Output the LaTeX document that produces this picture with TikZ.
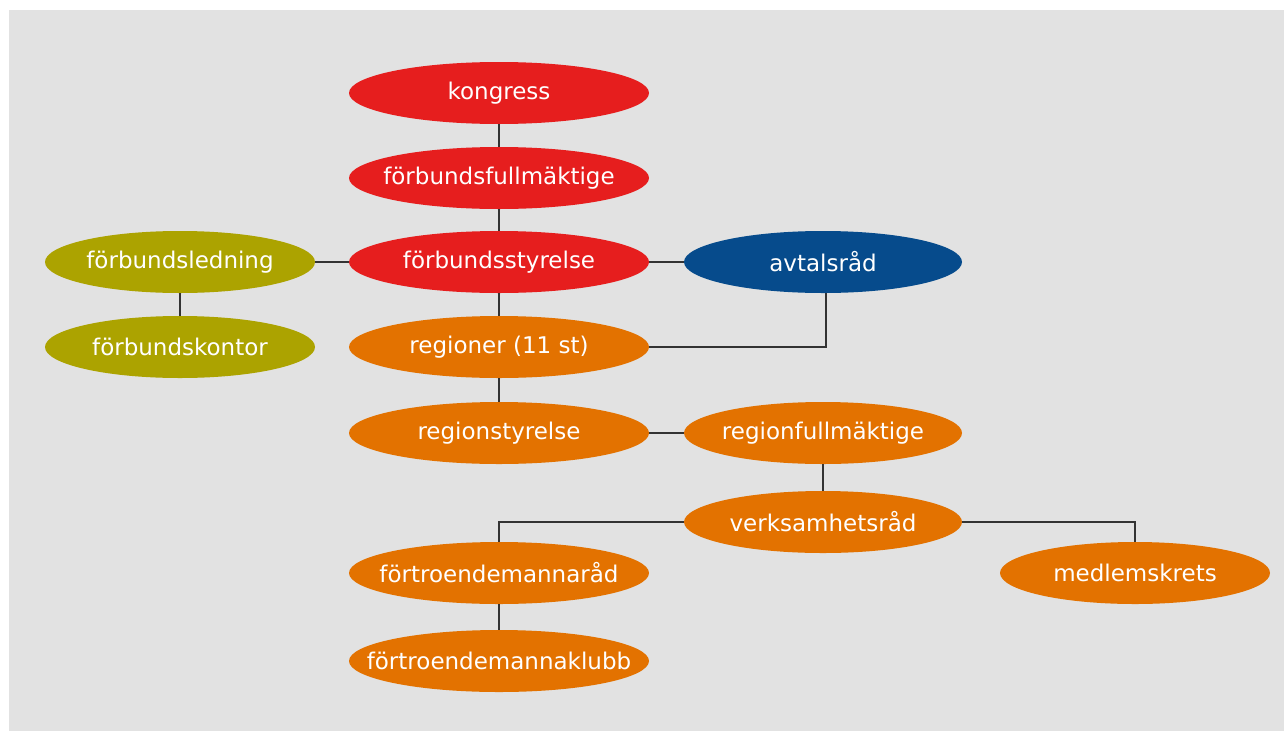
\documentclass[tikz,border=0pt]{standalone}
\usepackage{fontspec}
\setmainfont{DejaVu Sans}
\usetikzlibrary{shapes.geometric}
\definecolor{bg}{HTML}{E2E2E2}
\definecolor{cred}{HTML}{E61E1E}
\definecolor{corange}{HTML}{E37200}
\definecolor{colive}{HTML}{ACA300}
\definecolor{cblue}{HTML}{064B8C}
\definecolor{cline}{HTML}{333333}
\tikzset{
  org/.style={ellipse, draw=none, minimum width=300pt, minimum height=62pt, inner sep=0pt, text=white, font=\fontsize{23}{27}\selectfont},
  redn/.style={org, fill=cred},
  orn/.style={org, fill=corange},
  oln/.style={org, fill=colive, minimum width=270pt},
  bln/.style={org, fill=cblue, minimum width=278pt},
  conn/.style={draw=cline, line width=2.5pt}
}
\newcommand{\lbl}[1]{\makebox[0pt][c]{#1}}
\begin{document}
\begin{tikzpicture}[x=1pt,y=-1pt]
\useasboundingbox (0,0) rectangle (1284,731);
\fill[bg] (9,10) rectangle (1284,731);
\node[redn] (kg) at (499,93) {\lbl{kongress}};
\node[redn] (ff) at (499,178) {\lbl{förbundsfullmäktige}};
\node[redn] (fs) at (499,262) {\lbl{förbundsstyrelse}};
\node[orn] (rg) at (499,347) {\lbl{regioner (11 st)}};
\node[orn] (rs) at (499,433) {\lbl{regionstyrelse}};
\node[orn] (fr) at (499,573) {\lbl{förtroendemannaråd}};
\node[orn] (fk) at (499,661) {\lbl{förtroendemannaklubb}};
\node[oln] (fl) at (180,262) {\lbl{förbundsledning}};
\node[oln] (fko) at (180,347) {\lbl{förbundskontor}};
\node[bln] (av) at (823,262) {\lbl{avtalsråd}};
\node[orn, minimum width=278pt] (rf) at (823,433) {\lbl{regionfullmäktige}};
\node[orn, minimum width=278pt] (vr) at (823,522) {\lbl{verksamhetsråd}};
\node[orn, minimum width=270pt] (mk) at (1135,573) {\lbl{medlemskrets}};
\path[conn] (kg.south) -- (ff.north);
\path[conn] (ff.south) -- (fs.north);
\path[conn] (fs.south) -- (rg.north);
\path[conn] (rg.south) -- (rs.north);
\path[conn] (fl.east) -- (fs.west);
\path[conn] (fl.south) -- (fko.north);
\path[conn] (fs.east) -- (av.west);
\path[conn] ([xshift=3pt]av.south) |- (rg.east);
\path[conn] (rs.east) -- (rf.west);
\path[conn] (rf.south) -- (vr.north);
\path[conn] (vr.west) -| (fr.north);
\path[conn] (vr.east) -| (mk.north);
\path[conn] (fr.south) -- (fk.north);
\end{tikzpicture}
\end{document}
